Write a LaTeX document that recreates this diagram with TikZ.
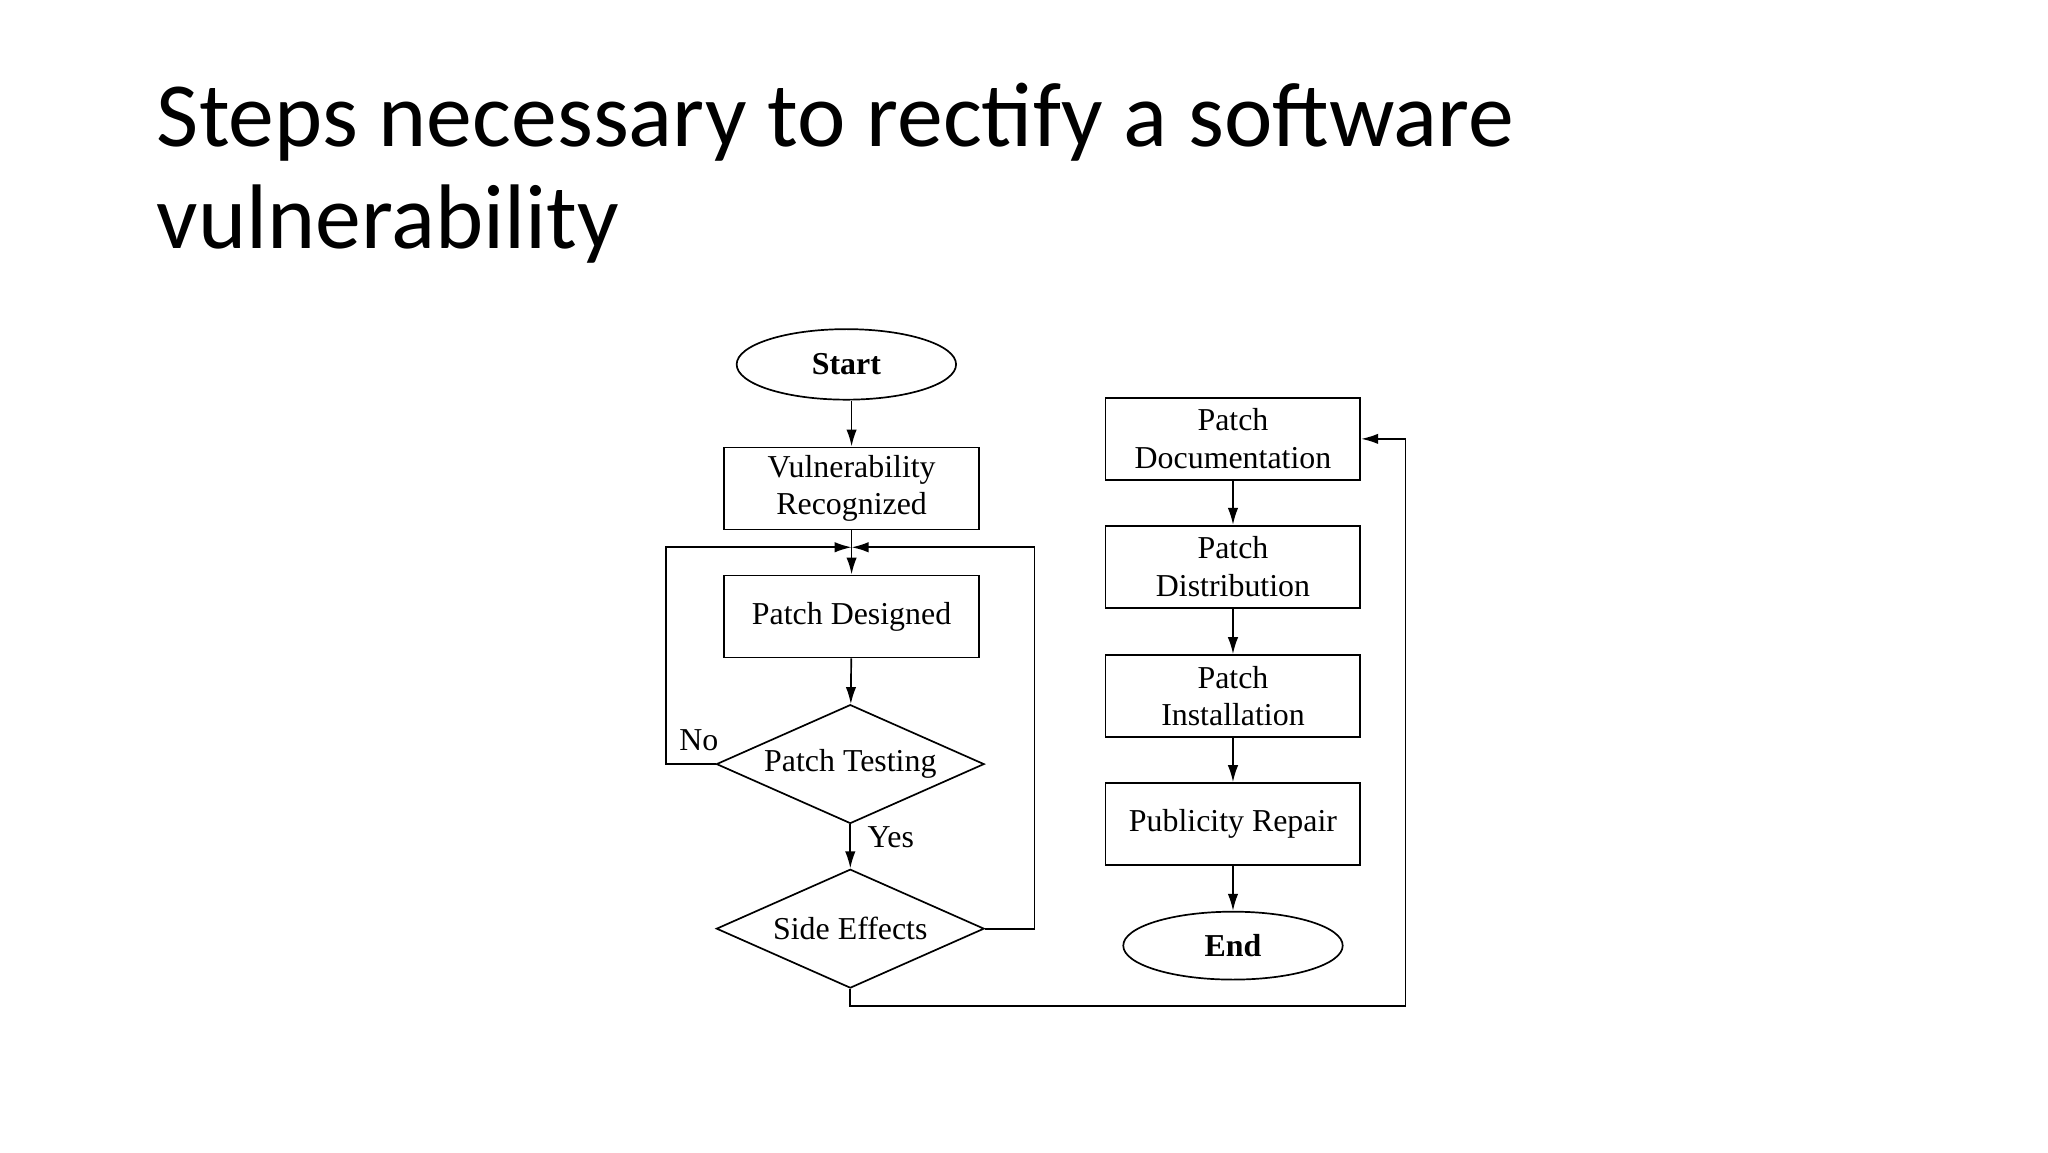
\documentclass[tikz,border=0pt]{standalone}
\usepackage{fontspec}
\setmainfont{Liberation Serif}
\newfontfamily\titlefont{Carlito}
\usetikzlibrary{shapes.geometric,arrows.meta}
\begin{document}
\begin{tikzpicture}[x=1bp,y=-1bp,
  every node/.style={font=\fontsize{24.5}{29}\selectfont, align=center, inner sep=0pt},
  box/.style={draw, line width=1.3bp, minimum width=195bp, minimum height=63bp},
  oval/.style={draw, ellipse, line width=1.3bp, minimum width=168bp, minimum height=54bp, font=\fontsize{24.5}{29}\selectfont\bfseries},
  dia/.style={draw, diamond, aspect=2.25, line width=1.3bp, minimum width=205bp, minimum height=91bp},
  line/.style={line width=1.3bp},
  arr/.style={line, -{Latex[length=13bp,width=8bp]}}]
\useasboundingbox (0,0) rectangle (1568,882);
\node[anchor=base west, font=\titlefont\fontsize{70.5}{80}\selectfont, align=left] (t1) at (120,112) {Steps necessary to rectify a software};
\node[anchor=base west, font=\titlefont\fontsize{70.5}{80}\selectfont, align=left] (t2) at (120,190) {vulnerability};
\node[oval] (start) at (648,279) {Start};
\node[box] (vr) at (652,374) {Vulnerability\\Recognized};
\node[box] (pd) at (652,472) {Patch Designed};
\node[dia] (pt) at (651,585) {Patch Testing};
\node[dia] (se) at (651,711) {Side Effects};
\coordinate (m) at (652,419);
\node[box] (doc) at (944,336) {Patch\\Documentation};
\node[box] (dist) at (944,434) {Patch\\Distribution};
\node[box] (inst) at (944,533) {Patch\\Installation};
\node[box] (pr) at (944,631) {Publicity Repair};
\node[oval, minimum height=52bp] (end) at (944,724) {End};
\node (no) at (535,567) {No};
\node (yes) at (682,641) {Yes};
\draw[arr] (start.south -| vr.north) -- (vr.north);
\draw[arr] (vr) -- (pd);
\draw[arr] (pd) -- (pt);
\draw[arr] (pt) -- (se);
\draw[arr] (pt.west) -- (510,585) -- (510,419) -- (m);
\draw[arr] (se.east) -- (792,711) -- (792,419) -- (m);
\draw[arr] (se.south) -- (651,770) -- (1076,770) -- (1076,336) -- (doc.east);
\draw[arr] (doc) -- (dist);
\draw[arr] (dist) -- (inst);
\draw[arr] (inst) -- (pr);
\draw[arr] (pr) -- (end);
\end{tikzpicture}
\end{document}
